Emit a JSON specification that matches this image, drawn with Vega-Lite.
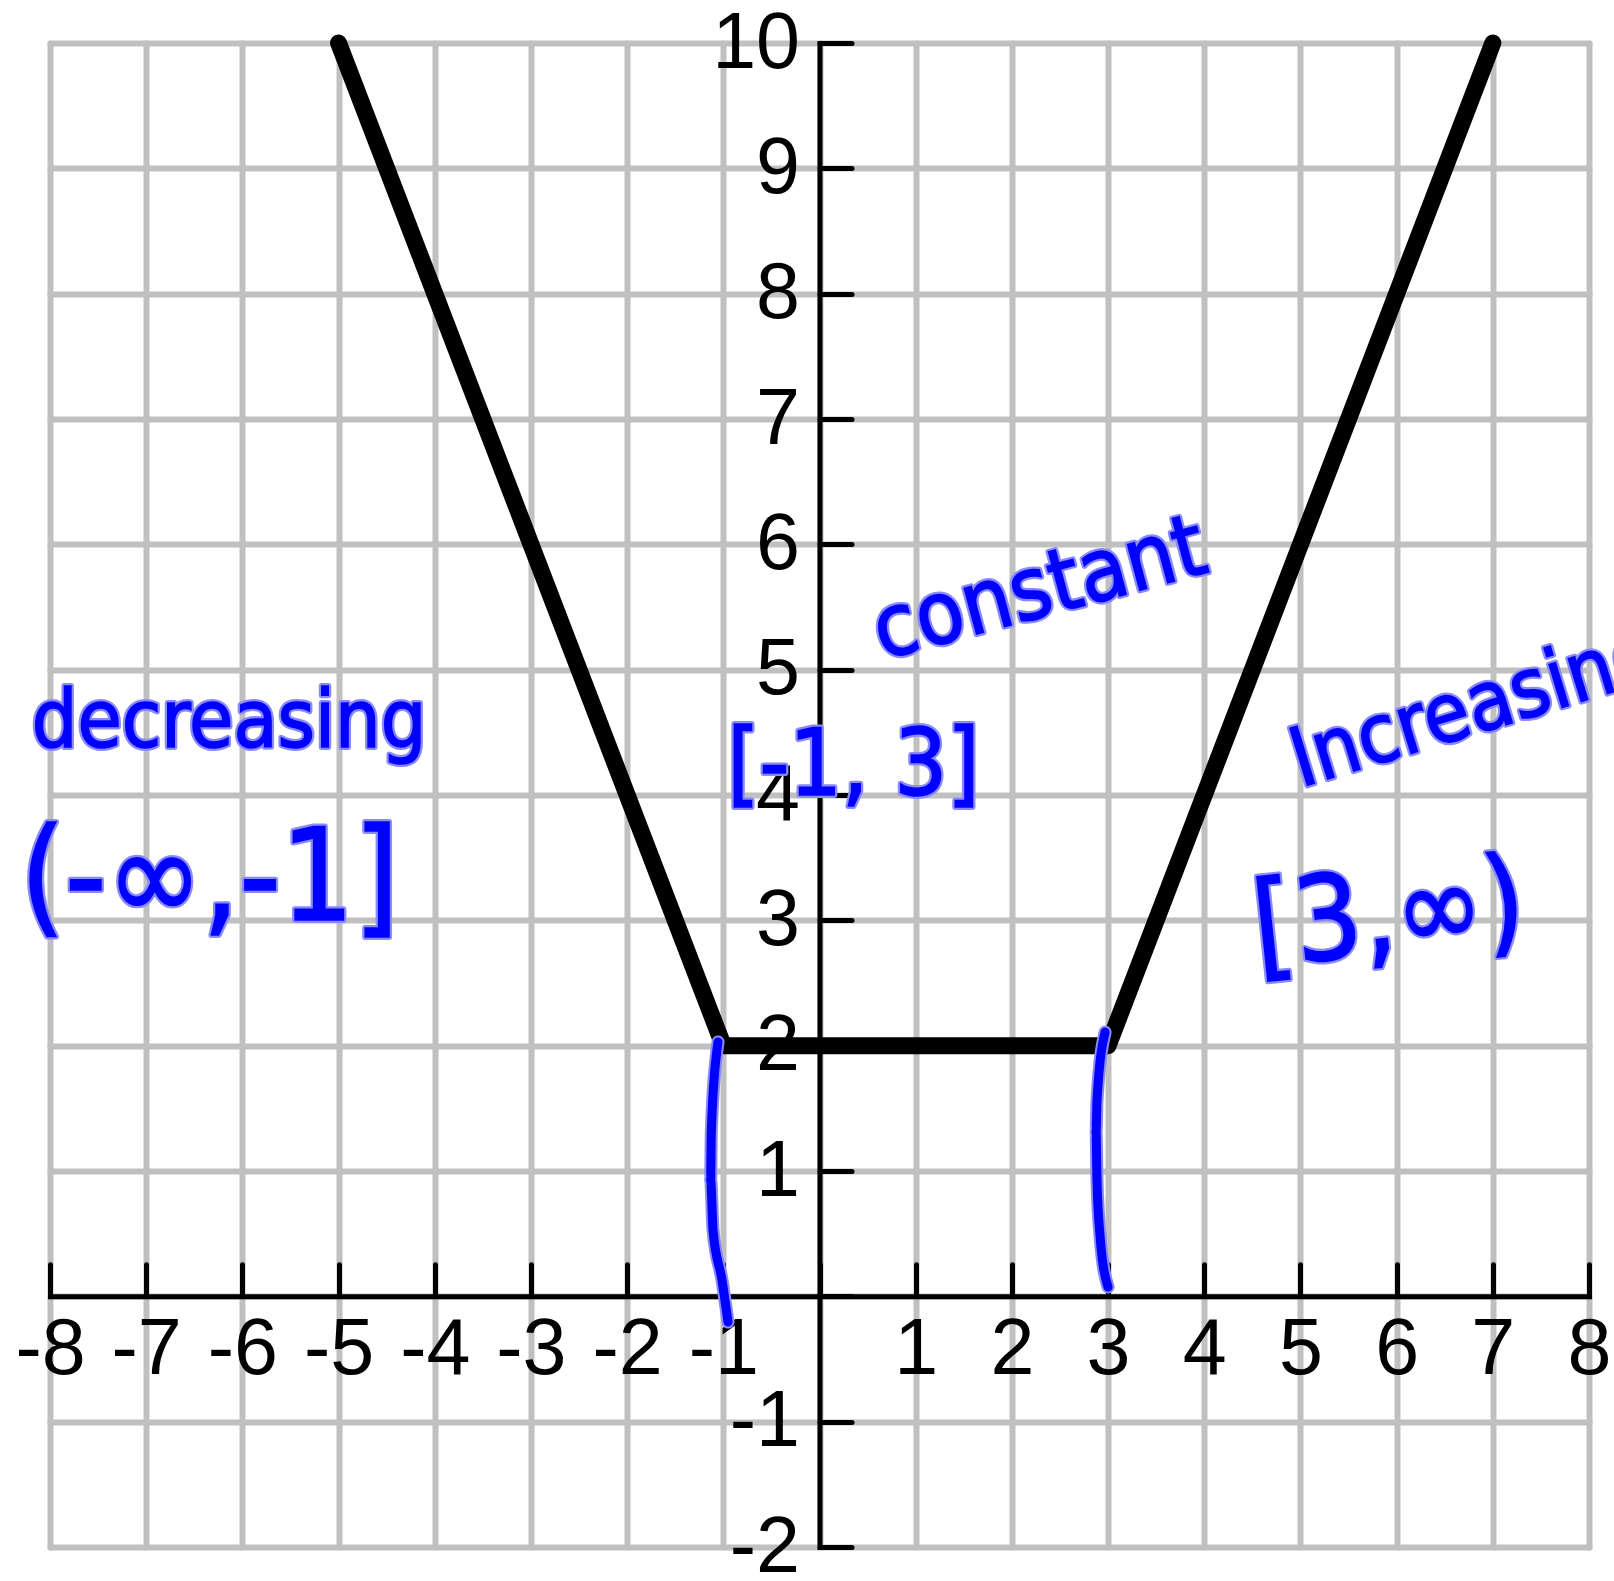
{
  "$schema": "https://vega.github.io/schema/vega-lite/v6.json",
  "autosize": {"type": "none"},
  "width": 1539,
  "height": 1504,
  "padding": {"left": 50, "top": 43, "right": 25, "bottom": 34},
  "background": "white",
  "config": {
    "view": {"stroke": null},
    "axis": {
      "domainColor": "black",
      "domainWidth": 5,
      "domainCap": "square",
      "tickColor": "black",
      "tickWidth": 5,
      "tickCap": "round",
      "tickSize": -32,
      "gridColor": "#c0c0c0",
      "gridWidth": 6,
      "gridOpacity": 1,
      "gridCap": "round",
      "labelFont": "Liberation Sans",
      "labelFontSize": 79,
      "labelColor": "black",
      "labelFlush": false,
      "labelOverlap": false,
      "zindex": 0
    }
  },
  "encoding": {
    "x": {
      "field": "x",
      "type": "quantitative",
      "scale": {"domain": [-8, 8], "nice": false, "zero": false},
      "axis": {
        "title": null,
        "grid": true,
        "orient": "bottom",
        "offset": -250.67,
        "values": [-8, -7, -6, -5, -4, -3, -2, -1, 0, 1, 2, 3, 4, 5, 6, 7, 8],
        "labelExpr": "datum.value == 0 ? '' : '' + datum.value",
        "labelPadding": 47
      }
    },
    "y": {
      "field": "y",
      "type": "quantitative",
      "scale": {"domain": [-2, 10], "nice": false, "zero": false},
      "axis": {
        "title": null,
        "grid": true,
        "orient": "left",
        "offset": -769.5,
        "values": [-2, -1, 0, 1, 2, 3, 4, 5, 6, 7, 8, 9, 10],
        "labelExpr": "datum.value == 0 ? '' : '' + datum.value",
        "labelPadding": 52,
        "labelAlign": "right",
        "labelBaseline": "middle"
      }
    }
  },
  "layer": [
    {
      "data": {"values": [
        {"x": -5, "y": 10, "ord": 0},
        {"x": -1, "y": 2, "ord": 1},
        {"x": 3, "y": 2, "ord": 2},
        {"x": 7, "y": 10, "ord": 3}
      ]},
      "mark": {"type": "line", "color": "black", "strokeWidth": 17, "strokeCap": "round", "strokeJoin": "round"},
      "encoding": {"order": {"field": "ord", "type": "quantitative"}}
    },
    {
      "data": {"name": "marks", "values": [
        {"stroke": "left", "ord": 0, "x": -1.055, "y": 2.03},
        {"stroke": "left", "ord": 1, "x": -1.066, "y": 1.965},
        {"stroke": "left", "ord": 2, "x": -1.125, "y": 1.311},
        {"stroke": "left", "ord": 3, "x": -1.132, "y": 0.928},
        {"stroke": "left", "ord": 4, "x": -1.107, "y": 0.529},
        {"stroke": "left", "ord": 5, "x": -1.014, "y": 0.13},
        {"stroke": "left", "ord": 6, "x": -0.951, "y": -0.205},
        {"stroke": "right", "ord": 0, "x": 2.969, "y": 2.108},
        {"stroke": "right", "ord": 1, "x": 2.885, "y": 1.566},
        {"stroke": "right", "ord": 2, "x": 2.875, "y": 1.311},
        {"stroke": "right", "ord": 3, "x": 2.885, "y": 0.928},
        {"stroke": "right", "ord": 4, "x": 2.916, "y": 0.489},
        {"stroke": "right", "ord": 5, "x": 3.0, "y": 0.074}
      ]},
      "encoding": {
        "detail": {"field": "stroke", "type": "nominal"},
        "order": {"field": "ord", "type": "quantitative"}
      },
      "layer": [
        {"mark": {"type": "line", "color": "#8a8aff", "strokeWidth": 13, "strokeCap": "round", "strokeJoin": "round", "interpolate": "monotone"}},
        {"mark": {"type": "line", "color": "#0000ff", "strokeWidth": 9, "strokeCap": "round", "strokeJoin": "round", "interpolate": "monotone"}}
      ]
    },
    {
      "data": {"values": [{"x": -8.19, "y": 4.38, "label": "decreasing"}]},
      "encoding": {"text": {"field": "label"}},
      "layer": [
        {"mark": {"type": "text", "align": "left", "baseline": "alphabetic", "font": "DejaVu Sans Condensed", "fontSize": 80, "fill": "#8a8aff", "stroke": "#8a8aff", "strokeWidth": 6, "strokeJoin": "round"}},
        {"mark": {"type": "text", "align": "left", "baseline": "alphabetic", "font": "DejaVu Sans Condensed", "fontSize": 80, "fill": "#0000ff", "stroke": "#0000ff", "strokeWidth": 1.5}}
      ]
    },
    {
      "data": {"values": [{"x": -8.31, "y": 3.0, "label": "(-∞,-1]"}]},
      "encoding": {"text": {"field": "label"}},
      "layer": [
        {"mark": {"type": "text", "align": "left", "baseline": "alphabetic", "font": "DejaVu Sans Condensed", "fontSize": 128, "fill": "#8a8aff", "stroke": "#8a8aff", "strokeWidth": 6, "strokeJoin": "round"}},
        {"mark": {"type": "text", "align": "left", "baseline": "alphabetic", "font": "DejaVu Sans Condensed", "fontSize": 128, "fill": "#0000ff", "stroke": "#0000ff", "strokeWidth": 1.5}}
      ]
    },
    {
      "data": {"values": [{"x": 0.65, "y": 5.08, "label": "constant"}]},
      "encoding": {"text": {"field": "label"}},
      "layer": [
        {"mark": {"type": "text", "align": "left", "baseline": "alphabetic", "angle": -15, "font": "DejaVu Sans Condensed", "fontSize": 87, "fill": "#8a8aff", "stroke": "#8a8aff", "strokeWidth": 6, "strokeJoin": "round"}},
        {"mark": {"type": "text", "align": "left", "baseline": "alphabetic", "angle": -15, "font": "DejaVu Sans Condensed", "fontSize": 87, "fill": "#0000ff", "stroke": "#0000ff", "strokeWidth": 1.5}}
      ]
    },
    {
      "data": {"values": [{"x": -0.96, "y": 4.0, "label": "[-1, 3]"}]},
      "encoding": {"text": {"field": "label"}},
      "layer": [
        {"mark": {"type": "text", "align": "left", "baseline": "alphabetic", "font": "DejaVu Sans Condensed", "fontSize": 92, "fill": "#8a8aff", "stroke": "#8a8aff", "strokeWidth": 6, "strokeJoin": "round"}},
        {"mark": {"type": "text", "align": "left", "baseline": "alphabetic", "font": "DejaVu Sans Condensed", "fontSize": 92, "fill": "#0000ff", "stroke": "#0000ff", "strokeWidth": 1.5}}
      ]
    },
    {
      "data": {"values": [{"x": 5.0, "y": 4.06, "label": "Increasing"}]},
      "encoding": {"text": {"field": "label"}},
      "layer": [
        {"mark": {"type": "text", "align": "left", "baseline": "alphabetic", "angle": -17, "font": "DejaVu Sans Condensed", "fontSize": 82, "fill": "#8a8aff", "stroke": "#8a8aff", "strokeWidth": 6, "strokeJoin": "round"}},
        {"mark": {"type": "text", "align": "left", "baseline": "alphabetic", "angle": -17, "font": "DejaVu Sans Condensed", "fontSize": 82, "fill": "#0000ff", "stroke": "#0000ff", "strokeWidth": 1.5}}
      ]
    },
    {
      "data": {"values": [{"x": 4.55, "y": 2.63, "label": "[3,∞)"}]},
      "encoding": {"text": {"field": "label"}},
      "layer": [
        {"mark": {"type": "text", "align": "left", "baseline": "alphabetic", "angle": -6, "font": "DejaVu Sans Condensed", "fontSize": 118, "fill": "#8a8aff", "stroke": "#8a8aff", "strokeWidth": 6, "strokeJoin": "round"}},
        {"mark": {"type": "text", "align": "left", "baseline": "alphabetic", "angle": -6, "font": "DejaVu Sans Condensed", "fontSize": 118, "fill": "#0000ff", "stroke": "#0000ff", "strokeWidth": 1.5}}
      ]
    }
  ]
}
